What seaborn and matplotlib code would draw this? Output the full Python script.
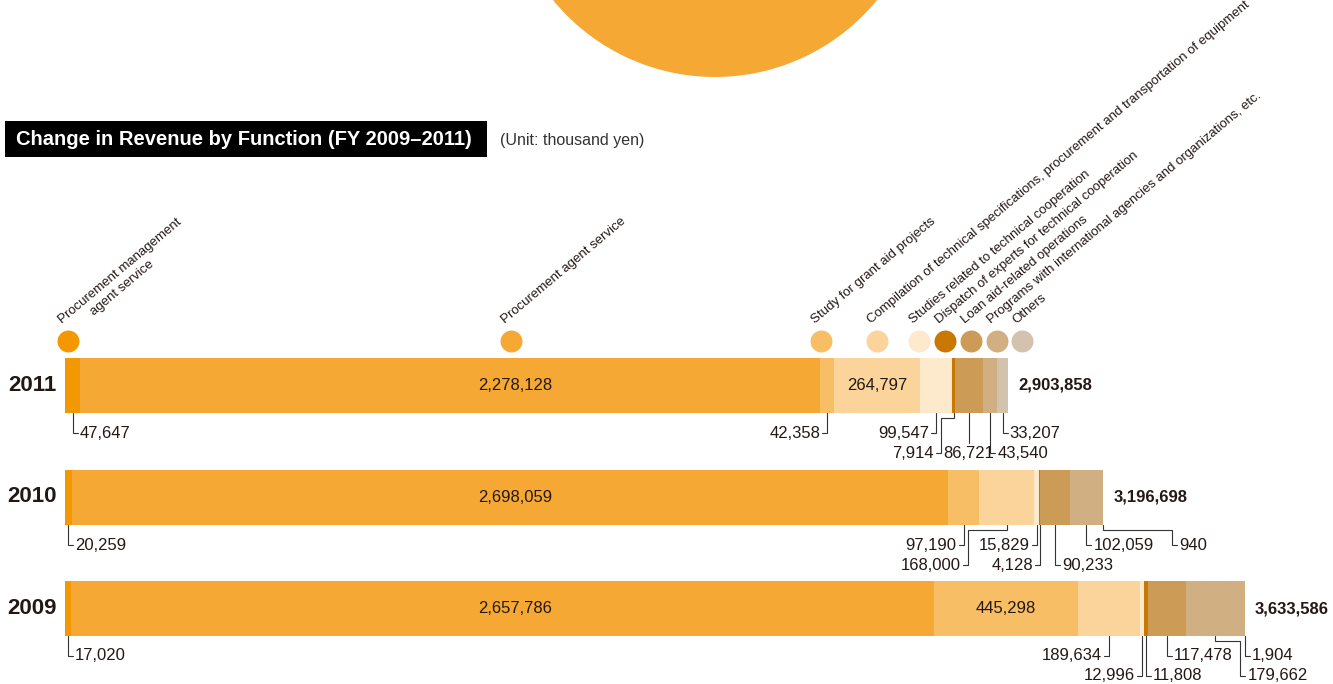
import numpy as np
import pandas as pd
import matplotlib
matplotlib.use("Agg")
import matplotlib.pyplot as plt
import seaborn as sns
from matplotlib.patches import Ellipse, Rectangle

# data (unit: thousand yen)
functions = [
    "Procurement management\nagent service",
    "Procurement agent service",
    "Study for grant aid projects",
    "Compilation of technical specifications, procurement and transportation of equipment",
    "Studies related to technical cooperation",
    "Dispatch of experts for technical cooperation",
    "Loan aid-related operations",
    "Programs with international agencies and organizations, etc.",
    "Others",
]
colors = ["#F39800", "#F5A833", "#F7BE65", "#FAD49A", "#FDE9CB",
          "#C87800", "#CC9C56", "#D0B082", "#D3C2AD"]
years = ["2011", "2010", "2009"]
rev_2011 = [47647, 2278128, 42358, 264797, 99547, 7914, 86721, 43540, 33207]
rev_2010 = [20259, 2698059, 97190, 168000, 15829, 4128, 90233, 102059, 940]
rev_2009 = [17020, 2657786, 445298, 189634, 12996, 11808, 117478, 179662, 1904]
totals = [2903858, 3196698, 3633586]
revenues = [rev_2011, rev_2010, rev_2009]

# which values sit inside the bar, and how the others are called out
inside = [[1, 3], [1], [1, 2]]
# (function index, row, side, jog in px)
callouts = [
    [(0, 1, "r", 0), (2, 1, "l", 0), (4, 1, "l", 0), (5, 2, "l", -13),
     (6, 2, "c", 0), (7, 2, "r", 0), (8, 1, "r", 0)],
    [(0, 1, "r", 0), (2, 1, "l", 0), (3, 2, "l", -39), (4, 1, "l", 0),
     (5, 2, "l", 0), (6, 2, "r", 0), (7, 1, "r", 0), (8, 1, "r", 69)],
    [(0, 1, "r", 0), (3, 1, "l", 0), (4, 2, "l", 0), (5, 2, "r", 0),
     (6, 1, "r", 0), (7, 2, "r", 25), (8, 1, "r", 0)],
]
legend_px = [68, 511, 821, 877, 919, 945, 971, 997, 1022]

sns.set_style("white")
FONT = ["Liberation Sans", "DejaVu Sans"]
plt.rcParams["font.family"] = FONT
INK = "#231815"
NUM = 12

# pixel -> data helpers (one axes spans the whole figure)
K = 3079.0
def X(px):
    return (px - 65) * K

def Y(py):
    return (py - 385.5) / 111.5

fig = plt.figure(figsize=(13.33, 6.84), dpi=100)
ax = fig.add_axes([0, 0, 1, 1])

rows = []
for yr, vals in zip(years, revenues):
    for f, c in zip(functions, np.cumsum(vals)):
        rows.append({"year": yr, "function": f, "cum": c})
df = pd.DataFrame(rows)

sns.barplot(data=df, x="cum", y="year", hue="function",
            hue_order=functions[::-1], palette=dict(zip(functions, colors)),
            order=years, dodge=False, orient="h", width=55 / 111.5,
            saturation=1, errorbar=None, legend=False, linewidth=0, ax=ax)

ax.set_xlim(X(0), X(1333))
ax.set_ylim(Y(684), Y(0))
ax.axis("off")

# big circle at the top
ax.add_patch(Ellipse((X(715), Y(-132)), 418 * K, 418 / 111.5,
                     color="#F5A833", lw=0))

# title
ax.add_patch(Rectangle((X(5), Y(121)), X(487) - X(5), Y(157) - Y(121),
                       color="black", lw=0))
ax.text(X(16), Y(139.5), "Change in Revenue by Function (FY 2009\u20132011)",
        color="white", fontsize=14.5, fontweight="bold", ha="left", va="center")
ax.text(X(500), Y(140), "(Unit: thousand yen)", color="#333333",
        fontsize=11.5, ha="left", va="center")

# legend dots + rotated labels
ang = np.deg2rad(40)
along = np.array([np.cos(ang), -np.sin(ang)])
perp = np.array([np.sin(ang), np.cos(ang)])
for f, c, lx in zip(functions, colors, legend_px):
    ax.scatter([X(lx)], [Y(341)], s=250, color=c, linewidths=0, zorder=3)
    base = np.array([lx - 6, 341 - 17], dtype=float)
    for j, line in enumerate(f.split("\n")):
        p = base + j * (14 * perp + 30 * along)
        ax.text(X(p[0]), Y(p[1]), line, rotation=40, rotation_mode="anchor",
                ha="left", va="baseline", fontsize=9.5, color=INK)

bar_bottom = [413, 525, 636]
for i, (yr, vals) in enumerate(zip(years, revenues)):
    cum = np.cumsum(vals)
    starts = cum - np.array(vals)
    centers = starts + np.array(vals) / 2

    ax.text(X(32), i, yr, ha="center", va="center", fontsize=16,
            fontweight="bold", color=INK)
    ax.text(totals[i] + 10 * K, i, f"{totals[i]:,}", ha="left", va="center",
            fontsize=NUM, fontweight="bold", color=INK)

    for k in inside[i]:
        cx = X(515) if k == 1 else centers[k]
        ax.text(cx, i, f"{vals[k]:,}", ha="center", va="center",
                fontsize=NUM, color=INK)

    yb = bar_bottom[i]
    for k, row, side, jog in callouts[i]:
        cx = centers[k]
        ry = yb + (20 if row == 1 else 40)
        xs, ys = [cx], [Y(yb)]
        if jog:
            xs += [cx, cx + jog * K]
            ys += [Y(yb + 5), Y(yb + 5)]
            cx = cx + jog * K
        if side == "c":
            xs.append(cx)
            ys.append(Y(ry - 10))
            ax.text(cx, Y(ry), f"{vals[k]:,}", ha="center", va="center",
                    fontsize=NUM, color=INK)
        else:
            sgn = 1 if side == "r" else -1
            xs += [cx, cx + sgn * 5 * K]
            ys += [Y(ry), Y(ry)]
            ax.text(cx + sgn * 7 * K, Y(ry), f"{vals[k]:,}",
                    ha="left" if side == "r" else "right", va="center",
                    fontsize=NUM, color=INK)
        ax.plot(xs, ys, color="#333333", lw=0.8, solid_joinstyle="miter")

fig.savefig("out.png", dpi=100)
